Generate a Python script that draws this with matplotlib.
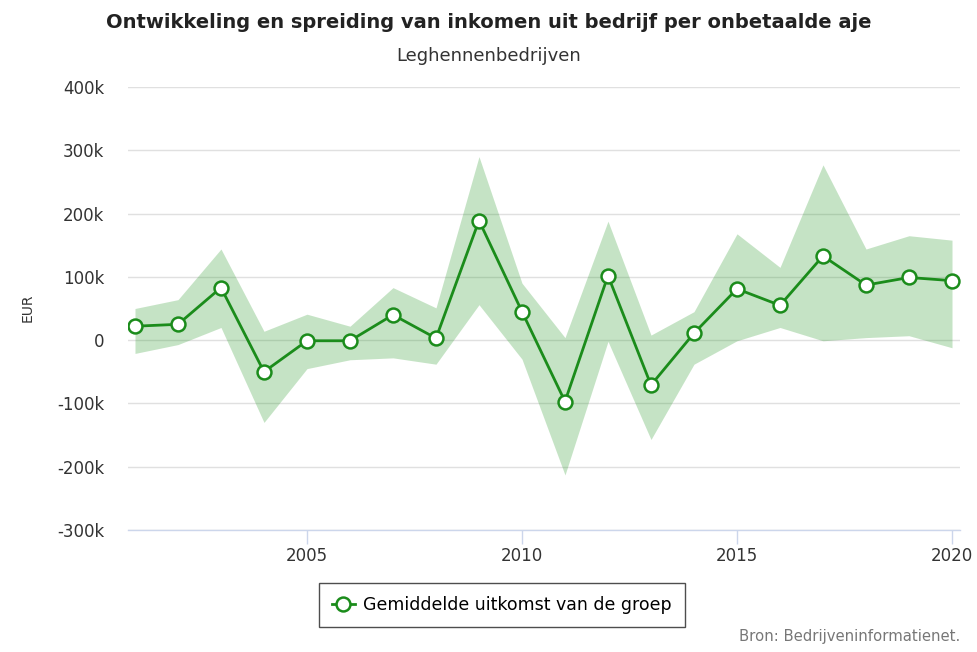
import matplotlib
matplotlib.use("Agg")
import matplotlib.pyplot as plt
from matplotlib.ticker import FuncFormatter, FixedLocator

years = list(range(2001, 2021))
mean_vals = [22, 25, 83, -50, -1, -1, 40, 3, 189, 45, -97, 102, -71, 11, 81, 55, 133, 87, 99, 94]
upper_vals = [50, 64, 144, 14, 41, 22, 83, 51, 290, 90, 4, 188, 8, 45, 168, 115, 277, 144, 165, 158]
lower_vals = [-21, -7, 20, -130, -45, -31, -28, -38, 56, -30, -213, -2, -157, -38, -1, 20, -1, 4, 7, -12]
mean_vals = [v * 1000 for v in mean_vals]
upper_vals = [v * 1000 for v in upper_vals]
lower_vals = [v * 1000 for v in lower_vals]

y_ticks = [-300000, -200000, -100000, 0, 100000, 200000, 300000, 400000]
x_ticks = [2005, 2010, 2015, 2020]

title = "Ontwikkeling en spreiding van inkomen uit bedrijf per onbetaalde aje"
subtitle = "Leghennenbedrijven"
series_name = "Gemiddelde uitkomst van de groep"
source = "Bron: Bedrijveninformatienet."

plt.rcParams['font.family'] = ['DejaVu Sans']

fig = plt.figure(figsize=(9.78, 6.52), dpi=100)
ax = fig.add_axes([128/978, 1-530/652, (960-128)/978, (530-87)/652])

line_color = '#1b8c1b'
ax.fill_between(years, lower_vals, upper_vals, color='#2a9a2a', alpha=0.27, linewidth=0, zorder=1)
ax.plot(years, mean_vals, color=line_color, linewidth=2.0, marker='o', markersize=10,
        markerfacecolor='white', markeredgecolor=line_color, markeredgewidth=1.8,
        label=series_name, zorder=3)

ax.set_xlim(2001 - 7/43, 2020 + 8/43)
ax.set_ylim(-300000, 400000)
ax.yaxis.set_major_locator(FixedLocator(y_ticks))
ax.xaxis.set_major_locator(FixedLocator(x_ticks))

def fmt(v, pos):
    if v == 0:
        return "0"
    return f"{int(v/1000)}k"
ax.yaxis.set_major_formatter(FuncFormatter(fmt))

ax.grid(axis='y', color='#e0e0e0', linewidth=1, zorder=0)
ax.set_axisbelow(True)
for s in ['top', 'right', 'left']:
    ax.spines[s].set_visible(False)
ax.spines['bottom'].set_color('#ccd6eb')
ax.spines['bottom'].set_linewidth(1)
ax.tick_params(axis='y', length=0, labelsize=12, labelcolor='#333333', pad=17)
ax.tick_params(axis='x', length=10, width=1, color='#ccd6eb', labelsize=12,
               labelcolor='#333333', pad=2.5)

fig.text(28/978, 1-308/652, "EUR", rotation=90, ha='center', va='center', fontsize=10, color='#333333')

fig.text(489/978, 1-22/652, title, ha='center', va='center', fontsize=14, fontweight='bold', color='#222222')
fig.text(489/978, 1-56/652, subtitle, ha='center', va='center', fontsize=13, color='#333333')

leg = ax.legend(loc='center', bbox_to_anchor=(502/978, 1-605/652), bbox_transform=fig.transFigure,
                frameon=True, fontsize=12.5, handlelength=1.3, handletextpad=0.5,
                borderpad=0.75, fancybox=False)
leg.get_frame().set_edgecolor('#222222')
leg.get_frame().set_linewidth(1)

fig.text(960/978, 1-637/652, source, ha='right', va='center', fontsize=10.7, color='#777777')

fig.savefig("out.png", dpi=100)
